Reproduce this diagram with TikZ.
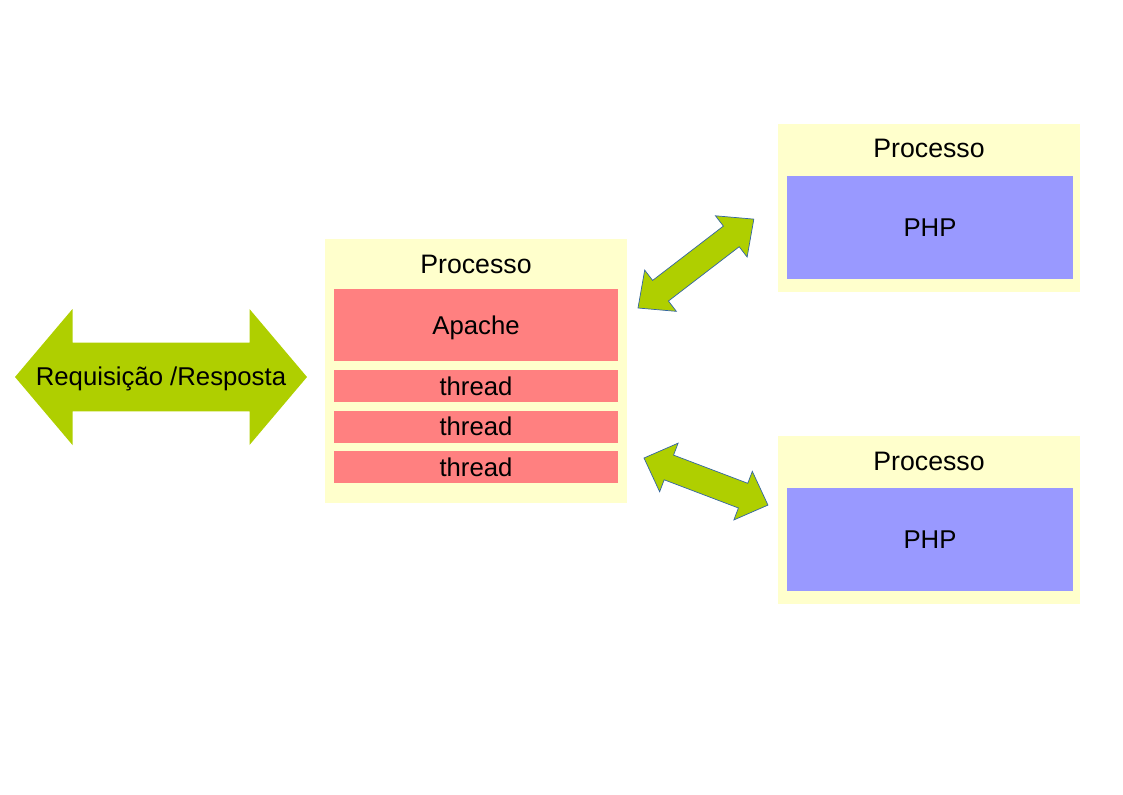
\documentclass[tikz,border=0pt]{standalone}
\usepackage{fontspec}
\setmainfont{Liberation Sans}
\usetikzlibrary{positioning}

\definecolor{procyellow}{HTML}{FFFFCC}
\definecolor{apachered}{HTML}{FF8080}
\definecolor{phpblue}{HTML}{9999FF}
\definecolor{arrowgreen}{HTML}{AFCF00}
\definecolor{arrowedge}{HTML}{3465A4}

\tikzset{
  pics/blockarrow/.style n args={4}{code={
    % #1 length, #2 head length, #3 head half width, #4 shaft half width
    \path[pic actions] (0,0) -- (#2,#3) -- (#2,#4) -- ({#1-#2},#4) -- ({#1-#2},#3)
      -- (#1,0) -- ({#1-#2},-#3) -- ({#1-#2},-#4) -- (#2,-#4) -- (#2,-#3) -- cycle;
  }},
}

\begin{document}
\begin{tikzpicture}[
  procbox/.style={fill=procyellow, inner sep=0pt},
  worker/.style={fill=apachered, inner sep=0pt, minimum width=7.1cm, font=\fontsize{18.3}{20}\selectfont},
  phpbox/.style={fill=phpblue, inner sep=0pt, minimum width=7.15cm, minimum height=2.575cm, font=\fontsize{18.3}{20}\selectfont},
  title/.style={font=\fontsize{19}{21}\selectfont, inner sep=0pt},
]
  \useasboundingbox (0,0) rectangle (28.075,-19.85);

  % Apache process with its threads
  \node[procbox, minimum width=7.55cm, minimum height=6.6cm] (proc) at (11.9,-9.275) {};
  \node[title] (proctitle) at (11.9,-6.62) {Processo};
  \node[worker, minimum height=1.8cm, text depth=0pt] (apache) at (11.9,-8.125) {Apache};
  \foreach \i in {1,2,3} {
    \node[worker, minimum height=0.8cm] (thr\i) at (11.9,{-9.65-(\i-1)*1.0125}) {thread};
  }

  % PHP processes
  \node[procbox, minimum width=7.55cm, minimum height=4.2cm] (phpproc1) at (23.225,-5.2) {};
  \node[title] (phptitle1) at (23.225,-3.72) {Processo};
  \node[phpbox] (php1) at (23.25,-5.6875) {PHP};

  \node[procbox, minimum width=7.55cm, minimum height=4.2cm] (phpproc2) at (23.225,-13) {};
  \node[title] (phptitle2) at (23.225,-11.545) {Processo};
  \node[phpbox] (php2) at (23.25,-13.4875) {PHP};

  % Arrows
  \pic[fill=arrowgreen] at (0.375,-9.425) {blockarrow={7.3}{1.4375}{1.7}{0.86}};
  \node[font=\fontsize{18.3}{20}\selectfont, inner sep=0pt] (req) at (4.025,-9.47) {Requisição /Resposta};

  \pic[fill=arrowgreen, draw=arrowedge, line width=0.5pt, rotate=37.5] at (15.95,-7.7) {blockarrow={3.65}{0.71}{0.65}{0.325}};
  \pic[fill=arrowgreen, draw=arrowedge, line width=0.5pt, rotate=-20.8] at (16.1,-11.45) {blockarrow={3.315}{0.665}{0.65}{0.33}};
\end{tikzpicture}
\end{document}
